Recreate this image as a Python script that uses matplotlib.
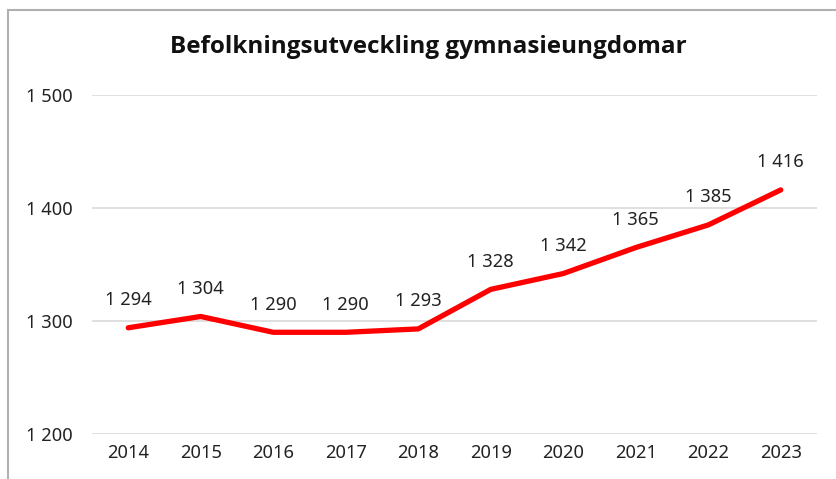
import matplotlib.pyplot as plt
from matplotlib.patches import Rectangle

years = ['2014', '2015', '2016', '2017', '2018', '2019', '2020', '2021', '2022', '2023']
pop = [1294, 1304, 1290, 1290, 1293, 1328, 1342, 1365, 1385, 1416]
yticks = [1200, 1300, 1400, 1500]

plt.rcParams['font.family'] = ['Noto Sans', 'DejaVu Sans']

fig = plt.figure(figsize=(8.36, 4.79), dpi=100)
# chart frame, cut off on right and bottom like the screenshot
fig.patches.append(Rectangle((8/836, -0.1), 1.2, (479-10)/479 + 0.1, transform=fig.transFigure,
                             fill=False, edgecolor='#b0b0b0', linewidth=1.5))

ax = fig.add_axes([92/836, 45/479, 725/836, 339/479])
x = range(len(years))
ax.plot(x, pop, color='#ff0000', linewidth=3.8, solid_capstyle='round', solid_joinstyle='round', zorder=3)
for i, v in enumerate(pop):
    ax.annotate(f'{v // 1000} {v % 1000:03d}', (i, v), xytext=(0, 20), textcoords='offset points',
                ha='center', va='center', fontsize=13.2, color='#222222')

ax.set_xlim(-0.5, len(years) - 0.5)
ax.set_ylim(1200, 1500)
ax.set_yticks(yticks)
ax.set_yticklabels([f'{t // 1000} {t % 1000:03d}' for t in yticks])
ax.set_xticks(list(x))
ax.set_xticklabels(years)
ax.tick_params(length=0, labelsize=13.2, colors='#222222')
ax.tick_params(axis='y', pad=13.5)
ax.tick_params(axis='x', pad=7)
ax.grid(axis='y', color='#dcdcdc', linewidth=1.3)
ax.set_axisbelow(True)
for s in ax.spines.values():
    s.set_visible(False)

fig.text(428/836, 1 - 47/479, 'Befolkningsutveckling gymnasieungdomar', ha='center', va='center',
         fontsize=17.5, fontweight='bold', family=['Open Sans', 'DejaVu Sans'], color='#111111')

fig.savefig('out.png', dpi=100)
